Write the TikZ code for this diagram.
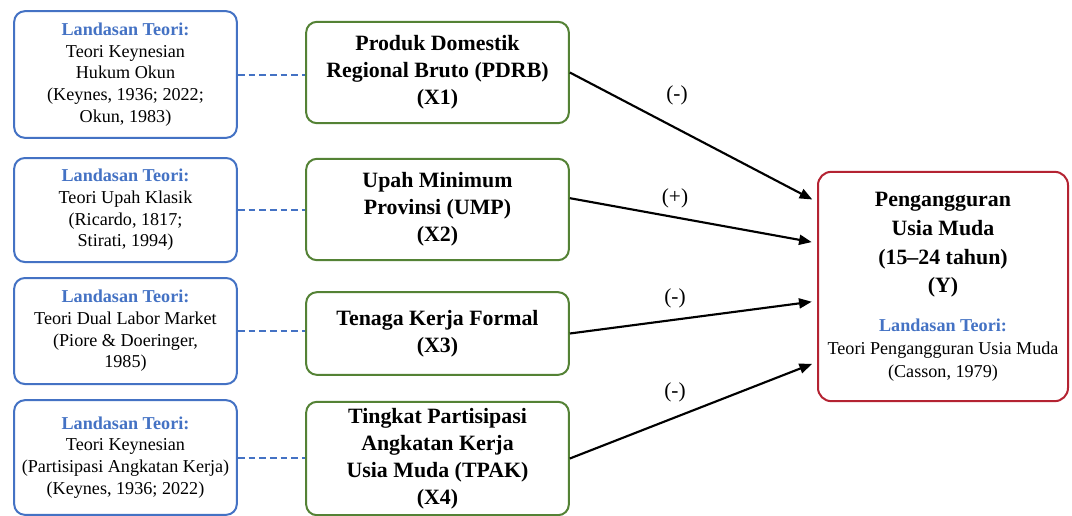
\documentclass[tikz,border=0pt]{standalone}
\usepackage{fontspec}
\setmainfont{Liberation Serif}
\usetikzlibrary{arrows.meta}

\definecolor{teoriblue}{RGB}{68,114,196}
\definecolor{varigreen}{RGB}{84,130,53}
\definecolor{ywred}{RGB}{180,35,50}

\tikzset{
  teoribox/.style={draw=teoriblue, line width=1.5pt, rounded corners=8pt,
    fill=white, align=center, minimum width=167pt, inner sep=2pt,
    font=\fontsize{13.6}{16.3}\selectfont},
  varbox/.style={draw=varigreen, line width=1.5pt, rounded corners=8pt,
    fill=white, align=center, minimum width=197pt, inner sep=2pt,
    font=\bfseries\fontsize{16.4}{20.2}\selectfont},
  ybox/.style={draw=ywred, line width=1.5pt, rounded corners=10pt,
    fill=white, minimum width=187.5pt, minimum height=172pt},
  linkdash/.style={draw=teoriblue, line width=1.5pt, dash pattern=on 5pt off 3pt},
  effect/.style={draw=black, line width=1.6pt,
    -{Triangle[length=9.5pt,width=7.5pt]}, shorten >=4pt},
  signlabel/.style={font=\fontsize{16}{18}\selectfont}
}
\newcommand{\landasan}{\textcolor{teoriblue}{\bfseries Landasan Teori:}}

\begin{document}
\begin{tikzpicture}[x=0.75pt,y=-0.75pt]

  % --- background & frame ---
  \fill[white] (0,0) rectangle (1072,515);
  \useasboundingbox (0,0) rectangle (1072,515);

  % =========================
  %  THEORY BOXES (LEFT)
  % =========================

  \node[teoribox, minimum height=95pt] (l1) at (125.5,74.5)
    {\landasan\\Teori Keynesian\\Hukum Okun\\(Keynes, 1936; 2022;\\Okun, 1983)};
  \node[teoribox, minimum height=78pt] (l2) at (125.5,210)
    {\landasan\\Teori Upah Klasik\\(Ricardo, 1817;\\Stirati, 1994)};
  \node[teoribox, minimum height=79.5pt] (l3) at (125.5,331)
    {\landasan\\Teori Dual Labor Market\\(Piore \& Doeringer,\\1985)};
  \node[teoribox, minimum height=86pt] (l4) at (125.5,457.5)
    {\landasan\\Teori Keynesian\\(Partisipasi Angkatan Kerja)\\(Keynes, 1936; 2022)};

  % =========================
  %  VARIABLE BOXES (MIDDLE)
  % =========================

  \node[varbox, minimum height=76pt] (x1) at (437.5,72.5)
    {Produk Domestik\\Regional Bruto (PDRB)\\(X1)};
  \node[varbox, minimum height=76pt] (x2) at (437.5,209.5)
    {Upah Minimum\\Provinsi (UMP)\\(X2)};
  \node[varbox, minimum height=62pt] (x3) at (437.5,333.5)
    {Tenaga Kerja Formal\\(X3)};
  \node[varbox, minimum height=85pt] (x4) at (437.5,458.5)
    {Tingkat Partisipasi\\Angkatan Kerja\\Usia Muda (TPAK)\\(X4)};

  % --- dependent variable ---
  \node[ybox] (y) at (943,286.5) {};
  \node[align=center, font=\bfseries\fontsize{16.4}{21.5}\selectfont] (ytitle) at (943,245)
    {Pengangguran\\Usia Muda\\(15--24 tahun)\\(Y)};
  \node[align=center, font=\fontsize{13.6}{17}\selectfont] (yteori) at (943,350)
    {\landasan\\Teori Pengangguran Usia Muda\\(Casson, 1979)};

  % --- dashed links ---
  \draw[linkdash] (l1.east) -- (l1.east -| x1.west);
  \draw[linkdash] (l2.east) -- (l2.east -| x2.west);
  \draw[linkdash] (l3.east) -- (l3.east -| x3.west);
  \draw[linkdash] (l4.east) -- (l4.east -| x4.west);

  % --- effects ---
  \draw[effect] (x1.east) -- ([yshift=63.4pt]y.west);
  \draw[effect] ([yshift=8.5pt]x2.east) -- ([yshift=32.6pt]y.west);
  \draw[effect] (x3.east) -- ([yshift=-10.9pt]y.west);
  \draw[effect] (x4.east) -- ([yshift=-56.6pt]y.west);

  \node[signlabel] (s1) at (677,95) {(-)};
  \node[signlabel] (s2) at (675,198) {(+)};
  \node[signlabel] (s3) at (675,298) {(-)};
  \node[signlabel] (s4) at (675,392) {(-)};

\end{tikzpicture}
\end{document}
